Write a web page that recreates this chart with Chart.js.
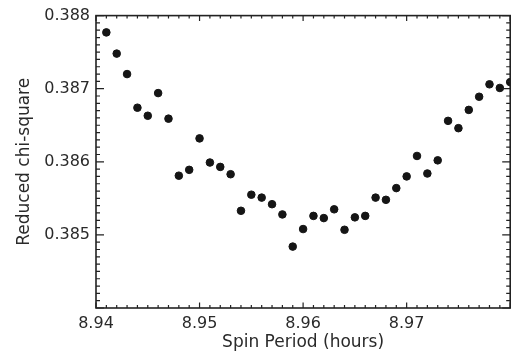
<!DOCTYPE html>
<html>
<head>
<meta charset="utf-8">
<script src="https://cdn.jsdelivr.net/npm/chart.js@4.4.1/dist/chart.umd.min.js"></script>
<style>
  body { margin: 0; background: #fff; }
  #wrap { width: 515px; height: 356px; }
</style>
</head>
<body>
<div id="wrap"><canvas id="chiChart" width="515" height="356"></canvas></div>
<script>
// spin period trial values (hours) and the reduced chi-square found for each
var spinPeriod = [8.941, 8.942, 8.943, 8.944, 8.945, 8.946, 8.947, 8.948, 8.949, 8.950,
                  8.951, 8.952, 8.953, 8.954, 8.955, 8.956, 8.957, 8.958, 8.959, 8.960,
                  8.961, 8.962, 8.963, 8.964, 8.965, 8.966, 8.967, 8.968, 8.969, 8.970,
                  8.971, 8.972, 8.973, 8.974, 8.975, 8.976, 8.977, 8.978, 8.979, 8.980];
var chiSquare = [0.38777, 0.38748, 0.38720, 0.38674, 0.38663, 0.38694, 0.38659, 0.38581, 0.38589, 0.38632,
                 0.38599, 0.38593, 0.38583, 0.38533, 0.38555, 0.38551, 0.38542, 0.38528, 0.38484, 0.38508,
                 0.38526, 0.38523, 0.38535, 0.38507, 0.38524, 0.38526, 0.38551, 0.38548, 0.38564, 0.38580,
                 0.38608, 0.38584, 0.38602, 0.38656, 0.38646, 0.38671, 0.38689, 0.38706, 0.38701, 0.38709];
var xTicks = [8.94, 8.95, 8.96, 8.97];
var yTicks = [0.385, 0.386, 0.387, 0.388];

var textColor = "#2a2a2a";
var fontFamily = "'DejaVu Sans', sans-serif";

// box round the plot with inward major/minor ticks on all four sides
var frameTicks = {
    id: "frameTicks",
    afterDraw: function (chart) {
        var ctx = chart.ctx, a = chart.chartArea;
        var x = chart.scales.x, y = chart.scales.y;
        ctx.save();
        ctx.strokeStyle = "#222";
        ctx.lineWidth = 1.2;
        ctx.beginPath();
        for (var i = 0; i <= 40; i++) {
            var px = x.getPixelForValue(x.min + i * 0.001);
            var xl = i % 10 === 0 ? 5.5 : 3;
            ctx.moveTo(px, a.bottom); ctx.lineTo(px, a.bottom - xl);
            ctx.moveTo(px, a.top); ctx.lineTo(px, a.top + xl);
            var py = y.getPixelForValue(y.min + i * 0.0001);
            var yl = i % 10 === 0 ? 8 : 4;
            ctx.moveTo(a.left, py); ctx.lineTo(a.left + yl, py);
            ctx.moveTo(a.right, py); ctx.lineTo(a.right - yl, py);
        }
        ctx.stroke();
        ctx.lineWidth = 1.6;
        ctx.strokeRect(a.left, a.top, a.right - a.left, a.bottom - a.top);
        ctx.restore();
    }
};

var points = spinPeriod.map(function (p, i) { return { x: p, y: chiSquare[i] }; });

new Chart(document.getElementById("chiChart").getContext("2d"), {
    type: "scatter",
    data: {
        datasets: [{
            data: points,
            backgroundColor: "#151515",
            borderColor: "#151515",
            pointRadius: 3.8,
            pointHoverRadius: 3.8
        }]
    },
    options: {
        responsive: false,
        animation: false,
        layout: { padding: { top: 13, right: 1, left: 0, bottom: 0 } },
        plugins: { legend: { display: false }, tooltip: { enabled: false } },
        scales: {
            x: {
                type: "linear",
                min: 8.94,
                max: 8.98,
                afterBuildTicks: function (scale) {
                    scale.ticks = xTicks.map(function (v) { return { value: v }; });
                },
                afterFit: function (scale) { scale.height = 48; },
                grid: { display: false, drawTicks: false },
                border: { display: false },
                ticks: {
                    color: textColor,
                    padding: 6,
                    maxRotation: 0,
                    font: { family: fontFamily, size: 16 },
                    callback: function (v) { return v.toFixed(2); }
                },
                title: {
                    display: true,
                    text: "Spin Period (hours)",
                    color: textColor,
                    font: { family: fontFamily, size: 17 },
                    padding: { top: 0, bottom: 3 }
                }
            },
            y: {
                type: "linear",
                min: 0.384,
                max: 0.388,
                afterBuildTicks: function (scale) {
                    scale.ticks = yTicks.map(function (v) { return { value: v }; });
                },
                afterFit: function (scale) { scale.width = 96; },
                grid: { display: false, drawTicks: false },
                border: { display: false },
                ticks: {
                    color: textColor,
                    padding: 6,
                    font: { family: fontFamily, size: 16 },
                    callback: function (v) { return v.toFixed(3); }
                },
                title: {
                    display: true,
                    text: "Reduced chi-square",
                    color: textColor,
                    font: { family: fontFamily, size: 17 },
                    padding: { top: 14, bottom: 0 }
                }
            }
        }
    },
    plugins: [frameTicks]
});
</script>
</body>
</html>
